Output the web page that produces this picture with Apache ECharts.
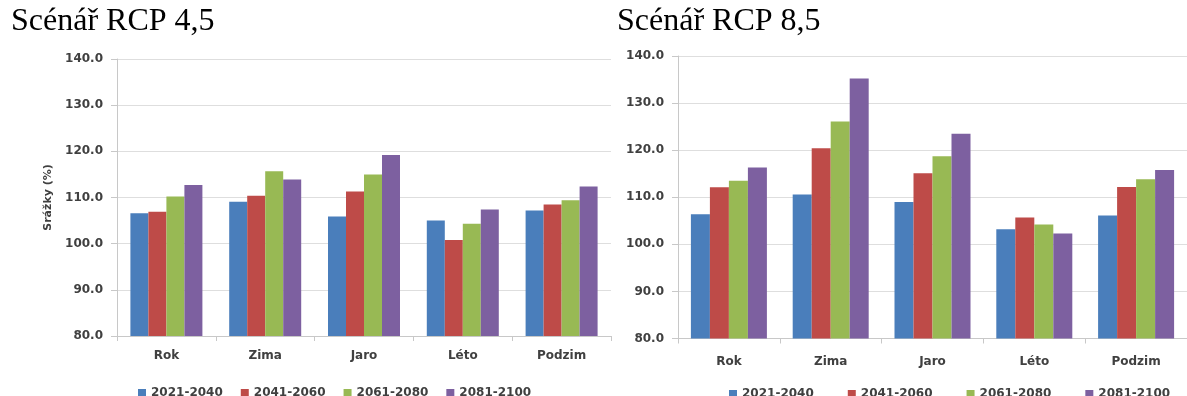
<!DOCTYPE html>
<html>
<head>
<meta charset="utf-8">
<script src="https://cdn.jsdelivr.net/npm/echarts@6/dist/echarts.min.js"></script>
<style>
  html, body { margin: 0; padding: 0; background: #ffffff; }
  #chart { width: 1187px; height: 396px; }
</style>
</head>
<body>
<div id="chart"></div>
<script>
// Seasons / whole year on the x axis
const categories = ['Rok', 'Zima', 'Jaro', 'Léto', 'Podzim'];
// Future periods (one bar series each)
const periods = ['2021-2040', '2041-2060', '2061-2080', '2081-2100'];
const periodColors = ['#4a7ebb', '#be4b48', '#98b954', '#7d60a0'];
// Precipitation relative to the reference period (%)
const rcp45_2021_2040 = [106.6, 109.1, 105.9, 105.0, 107.2];
const rcp45_2041_2060 = [106.9, 110.4, 111.3, 100.8, 108.5];
const rcp45_2061_2080 = [110.2, 115.7, 115.0, 104.3, 109.4];
const rcp45_2081_2100 = [112.7, 113.9, 119.2, 107.4, 112.4];

const rcp85_2021_2040 = [106.4, 110.6, 109.0, 103.2, 106.1];
const rcp85_2041_2060 = [112.1, 120.4, 115.1, 105.7, 112.2];
const rcp85_2061_2080 = [113.5, 126.1, 118.7, 104.2, 113.8];
const rcp85_2081_2100 = [116.3, 135.2, 123.5, 102.3, 115.8];

// Value axis ticks
const yTicks = [80, 90, 100, 110, 120, 130, 140];

const rcp45 = [rcp45_2021_2040, rcp45_2041_2060, rcp45_2061_2080, rcp45_2081_2100];
const rcp85 = [rcp85_2021_2040, rcp85_2041_2060, rcp85_2061_2080, rcp85_2081_2100];

const labelFont = { fontFamily: 'DejaVu Sans', fontWeight: 'bold', fontSize: 12, color: '#404040' };
const axisGray = '#c8c8c8';
const gridGray = '#dedede';

function valueAxis(gridIndex, withName) {
  const ax = {
    type: 'value',
    gridIndex: gridIndex,
    min: yTicks[0],
    max: yTicks[yTicks.length - 1],
    interval: yTicks[1] - yTicks[0],
    axisLine: { show: true, lineStyle: { color: axisGray, width: 1 } },
    axisTick: { show: true, length: 6, lineStyle: { color: axisGray } },
    splitLine: { show: true, lineStyle: { color: gridGray, width: 1 } },
    axisLabel: Object.assign({ margin: 14, formatter: v => v.toFixed(1) }, labelFont)
  };
  if (withName) {
    ax.name = 'Srážky (%)';
    ax.nameLocation = 'middle';
    ax.nameRotate = 90;
    ax.nameGap = 63;
    ax.nameTextStyle = { fontFamily: 'DejaVu Sans', fontWeight: 'bold', fontSize: 11, color: '#404040' };
  }
  return ax;
}

function categoryAxis(gridIndex, margin) {
  return {
    type: 'category',
    gridIndex: gridIndex,
    data: categories,
    axisLine: { show: true, lineStyle: { color: axisGray, width: 1 } },
    axisTick: { show: true, length: 5, lineStyle: { color: axisGray } },
    axisLabel: Object.assign({ margin: margin }, labelFont)
  };
}

function barSeries(gridIndex, sets, width) {
  return sets.map((vals, i) => ({
    type: 'bar',
    name: periods[i],
    xAxisIndex: gridIndex,
    yAxisIndex: gridIndex,
    data: vals,
    barWidth: width,
    barGap: '0%',
    itemStyle: { color: periodColors[i] },
    emphasis: { disabled: true }
  }));
}

const legendText = { fontFamily: 'DejaVu Sans', fontWeight: 'bold', fontSize: 12, color: '#404040' };
const titleText = { fontFamily: 'Liberation Serif', fontWeight: 'normal', fontSize: 32, color: '#000000' };

const option = {
  animation: false,
  backgroundColor: '#ffffff',
  color: periodColors,
  title: [
    { text: 'Scénář RCP 4,5', left: 6, top: 1, textStyle: titleText },
    { text: 'Scénář RCP 8,5', left: 612, top: 1, textStyle: titleText }
  ],
  legend: [
    { data: periods, left: 133, top: 382, width: 520, icon: 'rect', itemWidth: 8, itemHeight: 8, itemGap: 18,
      textStyle: legendText, selectedMode: false },
    // the right-hand legend runs close to the page edge, so give it room not to wrap
    { data: periods, left: 724, top: 383, width: 600, icon: 'rect', itemWidth: 8, itemHeight: 8, itemGap: 34,
      textStyle: legendText, selectedMode: false }
  ],
  grid: [
    { left: 117, top: 59, width: 494, height: 277 },
    { left: 678, top: 56, width: 522, height: 282.5 }
  ],
  xAxis: [categoryAxis(0, 14), categoryAxis(1, 17)],
  yAxis: [valueAxis(0, true), valueAxis(1, false)],
  series: barSeries(0, rcp45, 18).concat(barSeries(1, rcp85, 19))
};

const chart = echarts.init(document.getElementById('chart'), null, { renderer: 'canvas' });
chart.setOption(option);
</script>
</body>
</html>
